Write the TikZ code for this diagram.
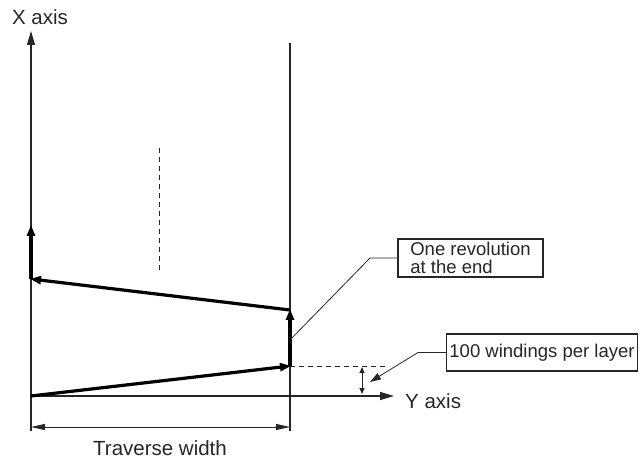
\documentclass[tikz,border=0pt]{standalone}
\usepackage{fontspec}
\setmainfont{Liberation Sans}
\usetikzlibrary{arrows.meta}
\definecolor{ink}{HTML}{262626}
\tikzset{
  axisline/.style={draw=ink, line width=1.1pt},
  axisarrow/.style={axisline, -{Triangle[length=14pt,width=8pt]}},
  thickarrow/.style={draw=black, line width=3.2pt, -{Triangle[length=11pt,width=8pt]}, shorten >=-1pt},
  dimarrow/.style={draw=ink, line width=1pt, {Triangle[length=14pt,width=6pt]}-{Triangle[length=14pt,width=6pt]}},
  smallarrow/.style={draw=ink, line width=1pt, {Triangle[length=6pt,width=5pt]}-{Triangle[length=6pt,width=5pt]}},
  leader/.style={draw=ink, line width=0.8pt},
  dashline/.style={draw=ink, line width=1pt, dash pattern=on 5pt off 4pt},
  labeltext/.style={text=ink, font=\fontsize{20.5}{22}\selectfont, inner sep=0pt},
  calloutbox/.style={draw=ink, line width=1.1pt, fill=white, text=ink, font=\fontsize{18.5}{17.5}\selectfont},
}
\begin{document}
\begin{tikzpicture}[x=1pt,y=-1pt]
\useasboundingbox (0,0) rectangle (640,462);
% key points
\coordinate (O) at (31,396);
\coordinate (Xtop) at (31,31);
\coordinate (Ybot) at (31,431);
\coordinate (Yend) at (394,396);
\coordinate (Rtop) at (290,43);
\coordinate (Rbot) at (290,431);
\coordinate (P1) at (290,366);
\coordinate (P2) at (290,310);
\coordinate (P3) at (31,279);
\coordinate (P4) at (31,226);
\coordinate (TL) at (31,427);
\coordinate (TR) at (290,427);
\coordinate (D1) at (159,148);
\coordinate (D2) at (159,272);
\coordinate (H2) at (386,366);
\coordinate (S1) at (362,367);
\coordinate (S2) at (362,394);
% axes
\draw[axisline] (Ybot) -- (O);
\draw[axisarrow] (O) -- (Xtop);
\draw[axisarrow] (O) -- (Yend);
\draw[axisline] (Rtop) -- (Rbot);
% dimension
\draw[dimarrow] (TL) -- (TR);
% dashed
\draw[dashline] (D1) -- (D2);
\draw[dashline] (P1) -- (H2);
\draw[smallarrow] (S1) -- (S2);
% winding path
\draw[thickarrow] (O) -- (P1);
\draw[thickarrow] (P1) -- (P2);
\draw[thickarrow] (P2) -- (P3);
\draw[thickarrow] (P3) -- (P4);
% labels
\node[labeltext, anchor=base] (xl) at (40,25) {X axis};
\node[labeltext, anchor=base west] (yl) at (405,408) {Y axis};
\node[labeltext, anchor=base] (tw) at (160,455) {Traverse width};
% callouts
\node[calloutbox, minimum width=145pt, minimum height=38pt, inner xsep=3pt, inner ysep=1pt, align=left] (rev) at (470.5,258) {One revolution\\at the end};
\node[calloutbox, minimum width=190pt, minimum height=37pt, inner xsep=3pt, align=center] (win) at (542,352.5) {100 windings per layer};
\coordinate (rk) at (370,258);
\coordinate (rt) at (290,340);
\draw[leader] (rev.west) -- (rk) -- (rt);
\coordinate (wk) at (418,352.5);
\coordinate (wt) at (370,382);
\draw[leader, -{Triangle[length=11pt,width=7pt]}] (win.west) -- (wk) -- (wt);
\end{tikzpicture}
\end{document}
